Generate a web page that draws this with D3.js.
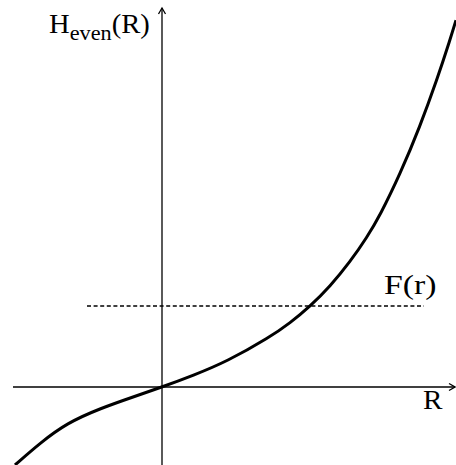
<!DOCTYPE html>
<html>
<head>
<meta charset="utf-8">
<script src="https://cdn.jsdelivr.net/npm/d3@7"></script>
<style>
  body { margin: 0; background: #fff; }
  text { font-family: "Liberation Serif", "DejaVu Serif", serif; fill: #000; }
</style>
</head>
<body>
<svg id="chart" width="456" height="465"></svg>
<script>
// curve H_even(R)
var rValues = [-1.47, -1.22, -0.95, -0.62, -0.29, 0, 0.31, 0.65, 1.08, 1.28, 1.48, 1.68, 1.88, 2.05, 2.18, 2.38, 2.58, 2.75, 2.88, 2.94];
var hValues = [-0.78, -0.56, -0.36, -0.215, -0.10, 0, 0.115, 0.255, 0.50, 0.64, 0.806, 1.006, 1.25, 1.498, 1.716, 2.126, 2.606, 3.074, 3.47, 3.668];

// horizontal level F(r)
var fLevel = 0.81;
var fRange = [-0.75, 2.62];

// axis extents
var rAxis = [-1.49, 2.93];
var hAxis = [-0.78, 3.79];

var svg = d3.select("#chart"),
    width = +svg.attr("width"),
    height = +svg.attr("height");

var x = d3.scaleLinear().domain([-1.62, 2.94]).range([0, width]);
var y = d3.scaleLinear().domain([-0.78, 3.87]).range([height, 0]);

var points = rValues.map(function(r, i) { return [r, hValues[i]]; });

// axes
svg.append("line")
    .attr("x1", x(rAxis[0])).attr("y1", y(0))
    .attr("x2", x(rAxis[1])).attr("y2", y(0))
    .attr("stroke", "#000").attr("stroke-width", 1.3);
svg.append("line")
    .attr("x1", x(0)).attr("y1", y(hAxis[0]))
    .attr("x2", x(0)).attr("y2", y(hAxis[1]))
    .attr("stroke", "#000").attr("stroke-width", 1.3);

// arrow heads (open chevrons)
var ax = x(rAxis[1]), ay = y(0);
svg.append("path")
    .attr("d", "M" + (ax - 6) + "," + (ay - 3.5) + "L" + ax + "," + ay + "L" + (ax - 6) + "," + (ay + 3.5))
    .attr("fill", "none").attr("stroke", "#000").attr("stroke-width", 1.3);
var vx = x(0), vy = y(hAxis[1]);
svg.append("path")
    .attr("d", "M" + (vx - 3.5) + "," + (vy + 6) + "L" + vx + "," + vy + "L" + (vx + 3.5) + "," + (vy + 6))
    .attr("fill", "none").attr("stroke", "#000").attr("stroke-width", 1.3);

// F(r) dashed level
svg.append("line")
    .attr("x1", x(fRange[0])).attr("y1", y(fLevel))
    .attr("x2", x(fRange[1])).attr("y2", y(fLevel))
    .attr("stroke", "#000").attr("stroke-width", 1.4)
    .attr("stroke-dasharray", "4,2.6");

// the curve
var line = d3.line()
    .x(function(d) { return x(d[0]); })
    .y(function(d) { return y(d[1]); })
    .curve(d3.curveBasis);

svg.append("path")
    .datum(points)
    .attr("d", line)
    .attr("fill", "none")
    .attr("stroke", "#000")
    .attr("stroke-width", 3);

// labels
var hl = svg.append("text").attr("transform", "translate(49,33) scale(1.06,1)").style("font-size", "27px");
hl.append("tspan").text("H");
hl.append("tspan").attr("dy", 7).style("font-size", "21px").text("even");
hl.append("tspan").attr("dy", -7).text("(R)");

svg.append("text").attr("transform", "translate(384,294) scale(1.25,1)").style("font-size", "27px").text("F(r)");
svg.append("text").attr("transform", "translate(423,409) scale(1.08,1)").style("font-size", "27px").text("R");
</script>
</body>
</html>
